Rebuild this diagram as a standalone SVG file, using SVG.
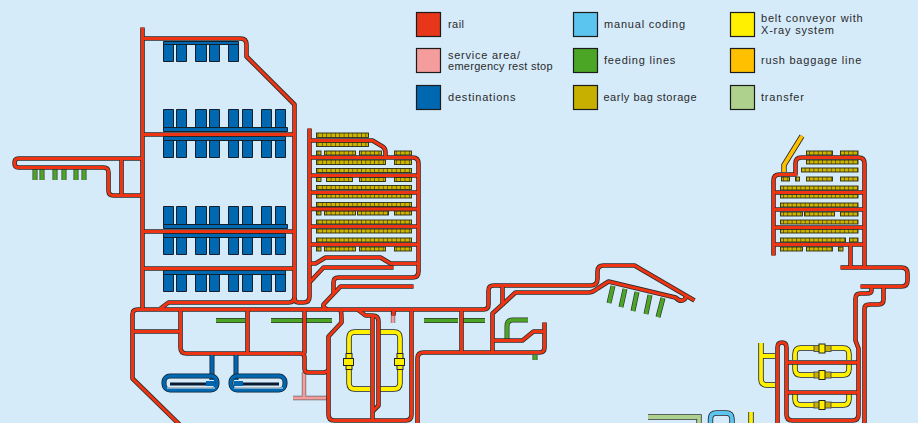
<svg xmlns="http://www.w3.org/2000/svg" xmlns:xlink="http://www.w3.org/1999/xlink" width="918" height="423" viewBox="0 0 918 423">
<style>
.t{font-family:"Liberation Sans",Arial,sans-serif;font-size:11px;letter-spacing:.8px;fill:#2a2a2a}
.sw{stroke:#1c1c1c;stroke-width:1.2}
.o{fill:none;stroke-linejoin:round;stroke:#2a2a2a;stroke-width:4.6}
.r{fill:none;stroke:#ee3412;stroke-width:3}
.bk{fill:#0068b0;stroke:#14202c;stroke-width:1}
.g{fill:none;stroke:#333;stroke-width:5}
.gi{fill:none;stroke:#4ca626;stroke-width:3.6}
.s{fill:url(#sp);stroke:#2a2a10;stroke-width:.9}
.y{fill:none;stroke:#222;stroke-width:5.4}
.yi{fill:none;stroke:#fff000;stroke-width:3.8}
.yb{fill:#fff000;stroke:#222;stroke-width:1}
.ys{fill:#c8b000;stroke:#555;stroke-width:1}
</style>
<defs>
<pattern id="sp" patternUnits="userSpaceOnUse" width="4.35" height="8"><rect width="4.35" height="8" fill="#ccb400"/><rect width=".7" height="8" fill="#4a4210"/></pattern>
<g id="railp">
<path d="M142 27V308"/>
<path d="M142 38H240Q246 38 246 44V56L294 104V296Q294 302 288 302H168L160 308"/>
<path d="M142 134H294M142 231H294M142 268H294"/>
<path d="M142 158H18Q14 158 14 162.500Q14 167 18 167H103Q108 167 108 172V190Q108 195 113 195H142M121 158V195"/>
<path d="M309 128V296Q309 302 303 302H298Q294 302 294 297"/>
<path d="M309 140H372L382 146Q385 148 385 152V157"/>
<path d="M309 157H412Q418 157 418 163V271Q418 277 412 277H338Q333 277 333 282V294"/>
<path d="M309 175H418M309 192H418M309 208.500H418M309 226H418M309 244H418"/>
<path d="M418 263H390L380 257H325L315 263H309"/>
<path d="M309 282L323 267H393"/>
<path d="M413 286H340L323 304Q322 307 327 309"/>
<path d="M180 425L132 378V314Q132 309 137 309H483Q488 309 488 304V290Q488 285 493 285H590Q597 285 597 278V271Q597 265 603 265H634L694 300"/>
<path d="M132 331H180"/>
<path d="M180 309V347Q180 353 186 353H300Q304 353 304 357V368Q304 372 308 372H324L328 370"/>
<path d="M247 309V353M304 309V353"/>
<path d="M340 309Q341 312 341 318V322L328 336V414Q328 420 334 420H405Q411 420 411 414V309"/>
<path d="M357 309L365 315H372Q378 315 378 321V405L372 411"/>
<path d="M372 316V420"/>
<path d="M417 425V358Q417 352 423 352H539Q544 352 544 347V322"/>
<path d="M461 309V352"/>
<path d="M492 352V313L515 292H588Q592 292 597 288L608 281L675 297Q680 302 684 299Q686 297 686 295"/>
<path d="M502 285V305"/>
<path d="M492 340H522L533 331H544"/>
<path d="M393 309V315"/>
<path d="M773 255V180Q773 174 779 174H795V163Q795 157 801 157H858Q864 157 864 163V267"/>
<path d="M773 192H864M773 209H864M773 227H864M773 244H864M850 244V267"/>
<path d="M840 267H901Q907 267 907 273V280Q907 286 901 286H860"/>
<path d="M871 286V290Q871 293 866 293H860Q855 293 855 298V340L858 348V414Q858 420 852 420H792Q786 420 786 414V347Q786 342 781.500 342Q777 342 777 347V425"/>
<path d="M864 425V308Q864 304 869 304H878Q883 304 883 299V286"/>
<path d="M786 362H858M786 392H858"/>
</g>
<g id="greenp">
<path d="M216 320.500H245M271 320.500H332M424 320.500H458M463 320.500H485"/>
<path d="M507 339V326Q507 320 513 320H528"/>
<path d="M535 355V360"/>
<path d="M613 286L609 303M625 289L621 307M637 292L633 311M650 295L646 314M663 298L658 317"/>
<path d="M35 169V180M42 169V180M55 169V180M64 169V180M76 169V180M84 169V180"/>
</g>
<g id="yellowp">
<path d="M370 332H355Q349 332 349 338V383Q349 389 355 389H370M380 332H394Q400 332 400 338V383Q400 389 394 389H380"/>
<path d="M795 360V354Q795 348 801 348H843Q849 348 849 354V360M795 364V369Q795 375 801 375H843Q849 375 849 369V364"/>
<path d="M795 394V399Q795 405 801 405H843Q849 405 849 399V394"/>
<path d="M761 343V379Q761 385 767 385H775M761 356H775"/>
<path d="M751 412V425"/>
</g>
</defs>
<rect width="918" height="423" fill="#d5ebfa"/>

<g id="legend">
<g id="lg-rail"><rect class="sw" x="416.500" y="12.500" width="24" height="24" fill="#e8361a"/><text class="t" x="448" y="28" style="letter-spacing:.45px">rail</text></g>
<g id="lg-service"><rect class="sw" x="416.500" y="48.500" width="24" height="24" fill="#f59c9c"/><text class="t"><tspan x="448" y="59" style="letter-spacing:.75px">service area/</tspan><tspan x="448" y="70" style="letter-spacing:.27px">emergency rest stop</tspan></text></g>
<g id="lg-dest"><rect class="sw" x="416.500" y="85.500" width="24" height="24" fill="#0068b0"/><text class="t" x="448" y="101">destinations</text></g>
<g id="lg-manual"><rect class="sw" x="573.500" y="12.500" width="24" height="24" fill="#5bc5f0"/><text class="t" x="604" y="28">manual coding</text></g>
<g id="lg-feeding"><rect class="sw" x="573.500" y="48.500" width="24" height="24" fill="#4ca626"/><text class="t" x="604" y="64">feeding lines</text></g>
<g id="lg-early"><rect class="sw" x="573.500" y="85.500" width="24" height="24" fill="#c8b000"/><text class="t" x="603.500" y="101" style="letter-spacing:.5px">early bag storage</text></g>
<g id="lg-belt"><rect class="sw" x="730.500" y="12.500" width="24" height="24" fill="#fff000"/><text class="t"><tspan x="761" y="22">belt conveyor with</tspan><tspan x="761" y="34">X-ray system</tspan></text></g>
<g id="lg-rush"><rect class="sw" x="730.500" y="48.500" width="24" height="24" fill="#ffc000"/><text class="t" x="761" y="64">rush baggage line</text></g>
<g id="lg-transfer"><rect class="sw" x="730.500" y="85.500" width="24" height="24" fill="#aed28e"/><text class="t" x="761" y="101">transfer</text></g>
</g>

<g id="destinations">
<path class="bk" d="M163.500 41.500h75v3h-75zM163.500 44.500h10v17h-10zM176.500 44.500h10v17h-10zM195.500 44.500h11v17h-11zM209.500 44.500h10v17h-10zM228.500 44.500h10v17h-10z"/>
<path id="dest-row2" class="bk" d="M163.500 109.500h10v18h-10zM176.500 109.500h10v18h-10zM195.500 109.500h11v18h-11zM209.500 109.500h10v18h-10zM228.500 109.500h10v18h-10zM242.500 109.500h10v18h-10zM261.500 109.500h10v18h-10zM275.500 109.500h10v18h-10zM163.500 127.500h124v4h-124zM163.500 136.500h122v4h-122zM163.500 140.500h10v17h-10zM176.500 140.500h10v17h-10zM195.500 140.500h11v17h-11zM209.500 140.500h10v17h-10zM228.500 140.500h10v17h-10zM242.500 140.500h10v17h-10zM261.500 140.500h10v17h-10zM275.500 140.500h10v17h-10z"/>
<path id="dest-row3" class="bk" d="M163.500 206.500h10v18h-10zM176.500 206.500h10v18h-10zM195.500 206.500h11v18h-11zM209.500 206.500h10v18h-10zM228.500 206.500h10v18h-10zM242.500 206.500h10v18h-10zM261.500 206.500h10v18h-10zM275.500 206.500h10v18h-10zM163.500 224.500h124v4h-124zM163.500 233.500h122v4h-122zM163.500 237.500h10v17h-10zM176.500 237.500h10v17h-10zM195.500 237.500h11v17h-11zM209.500 237.500h10v17h-10zM228.500 237.500h10v17h-10zM242.500 237.500h10v17h-10zM261.500 237.500h10v17h-10zM275.500 237.500h10v17h-10z"/>
<path id="dest-row4" class="bk" d="M163.500 270.500h122v4h-122zM163.500 274.500h10v17h-10zM176.500 274.500h10v17h-10zM195.500 274.500h11v17h-11zM209.500 274.500h10v17h-10zM228.500 274.500h10v17h-10zM242.500 274.500h10v17h-10zM261.500 274.500h10v17h-10zM275.500 274.500h10v17h-10z"/>
</g>

<g id="storage-left">
<rect class="s" x="316.500" y="133" width="52" height="4.500"/><rect class="s" x="316.500" y="142" width="52" height="4.500"/>
<rect class="s" x="316.500" y="151" width="4.500" height="4"/><rect class="s" x="324.500" y="151" width="31" height="4"/><rect class="s" x="359.500" y="151" width="22" height="4"/><rect class="s" x="394.500" y="151" width="17" height="4"/>
<rect class="s" x="316.500" y="160" width="69" height="4.500"/><rect class="s" x="394.500" y="160" width="17" height="4.500"/>
<rect class="s" x="316.500" y="168.500" width="95" height="4"/>
<rect class="s" x="316.500" y="177.500" width="4.500" height="4"/><rect class="s" x="326.500" y="177.500" width="26" height="4"/><rect class="s" x="359.500" y="177.500" width="26" height="4"/><rect class="s" x="394.500" y="177.500" width="17" height="4"/>
<rect class="s" x="316.500" y="185.500" width="95" height="4"/><rect class="s" x="316.500" y="194" width="95" height="4"/><rect class="s" x="316.500" y="202.500" width="95" height="4"/>
<rect class="s" x="316.500" y="211" width="4.500" height="4"/><rect class="s" x="324.500" y="211" width="31" height="4"/><rect class="s" x="357.500" y="211" width="31" height="4"/><rect class="s" x="394.500" y="211" width="17" height="4"/>
<rect class="s" x="316.500" y="220" width="95" height="4"/><rect class="s" x="316.500" y="229" width="95" height="4"/><rect class="s" x="316.500" y="238" width="95" height="4"/>
<rect class="s" x="316.500" y="247" width="4.500" height="4"/><rect class="s" x="324.500" y="247" width="31" height="4"/><rect class="s" x="359.500" y="247" width="26" height="4"/><rect class="s" x="394.500" y="247" width="17" height="4"/>
</g>

<g id="storage-right">
<rect class="s" x="806.500" y="151" width="26" height="4"/><rect class="s" x="840.500" y="151" width="17.500" height="4"/>
<rect class="s" x="806.500" y="160" width="51.500" height="4"/>
<rect class="s" x="801.500" y="168" width="56.500" height="4"/>
<rect class="s" x="781.500" y="177" width="8" height="4"/><rect class="s" x="795.500" y="177" width="4" height="4"/><rect class="s" x="806.500" y="177" width="26" height="4"/><rect class="s" x="840.500" y="177" width="17.500" height="4"/>
<rect class="s" x="780.500" y="186" width="77.500" height="4"/><rect class="s" x="780.500" y="194" width="77.500" height="4"/><rect class="s" x="780.500" y="203" width="77.500" height="4"/>
<rect class="s" x="780.500" y="212" width="22" height="4"/><rect class="s" x="804.500" y="212" width="30" height="4"/><rect class="s" x="840.500" y="212" width="17.500" height="4"/>
<rect class="s" x="780.500" y="220" width="77.500" height="4"/><rect class="s" x="780.500" y="229" width="77.500" height="4"/>
<rect class="s" x="780.500" y="238" width="65" height="4"/><rect class="s" x="849.500" y="238" width="8.500" height="4"/>
<rect class="s" x="780.500" y="247" width="22" height="4"/><rect class="s" x="806.500" y="247" width="26" height="4"/><rect class="s" x="838.500" y="247" width="4.500" height="4"/>
</g>

<g id="feeding-lines"><use href="#greenp" class="g"/><use href="#greenp" class="gi"/></g>

<g id="rush-line">
<path d="M802 136L784 165V172" fill="none" stroke="#222" stroke-width="5.400"/>
<path d="M802 136L784 165V172" fill="none" stroke="#ffc000" stroke-width="3.800"/>
</g>

<g id="transfer">
<path d="M648 417H699V425" fill="none" stroke="#333" stroke-width="5.400"/>
<path d="M648 417H699V425" fill="none" stroke="#aed28e" stroke-width="3.800"/>
</g>

<g id="manual-coding">
<path d="M710.500 425V419Q710.500 413 716.500 413H726Q732 413 732 419V425" fill="none" stroke="#222" stroke-width="5.400"/>
<path d="M710.500 425V419Q710.500 413 716.500 413H726Q732 413 732 419V425" fill="none" stroke="#5bc5f0" stroke-width="3.800"/>
</g>

<g id="xray-belts">
<use href="#yellowp" class="y"/><use href="#yellowp" class="yi"/>
<g id="xr1"><rect class="yb" x="346" y="353.500" width="6" height="16"/><rect class="yb" x="343.500" y="358.500" width="10" height="7"/></g>
<g id="xr2"><rect class="yb" x="397" y="353.500" width="6" height="16"/><rect class="yb" x="394.500" y="358.500" width="10" height="7"/></g>
<g id="xr3"><rect class="ys" x="814" y="345.500" width="17" height="6"/><rect class="yb" x="819" y="344" width="6" height="9"/></g>
<g id="xr4"><rect class="ys" x="814" y="372" width="17" height="6"/><rect class="yb" x="819" y="370.500" width="6" height="9"/></g>
<g id="xr5"><rect class="ys" x="814" y="402" width="17" height="6"/><rect class="yb" x="819" y="400.500" width="6" height="9"/></g>
</g>

<g id="service-areas">
<path d="M304 372V397M293 398H328M393 310V323" fill="none" stroke="#666" stroke-width="4.400"/>
<path d="M304 372V397M293 398H328M393 310V323" fill="none" stroke="#f59c9c" stroke-width="3"/>
</g>

<g id="connectors" transform="translate(.5 .5)"><use href="#railp" class="o"/><use href="#railp" class="r"/></g>

<g id="dest-loops">
<g id="loop1">
<path d="M212 355V380" stroke="#14202c" stroke-width="5" fill="none"/>
<path d="M212 355V380" stroke="#0068b0" stroke-width="3.400" fill="none"/>
<rect x="164" y="376" width="53" height="14" rx="6" fill="none" stroke="#14202c" stroke-width="5"/>
<rect x="164" y="376" width="53" height="14" rx="6" fill="none" stroke="#0068b0" stroke-width="3.400"/>
<path d="M170 384H212" stroke="#0a1a30" stroke-width="3"/>
<path d="M167 388H215" stroke="#eef6fc" stroke-width="1"/>
<rect x="206" y="381" width="9" height="5" fill="#0068b0"/>
</g>
<g id="loop2">
<path d="M236 355V380" stroke="#14202c" stroke-width="5" fill="none"/>
<path d="M236 355V380" stroke="#0068b0" stroke-width="3.400" fill="none"/>
<rect x="231" y="376" width="54" height="14" rx="6" fill="none" stroke="#14202c" stroke-width="5"/>
<rect x="231" y="376" width="54" height="14" rx="6" fill="none" stroke="#0068b0" stroke-width="3.400"/>
<path d="M238 384H279" stroke="#0a1a30" stroke-width="3"/>
<path d="M234 388H283" stroke="#eef6fc" stroke-width="1"/>
<rect x="234" y="381" width="9" height="5" fill="#0068b0"/>
</g>
</g>
</svg>
